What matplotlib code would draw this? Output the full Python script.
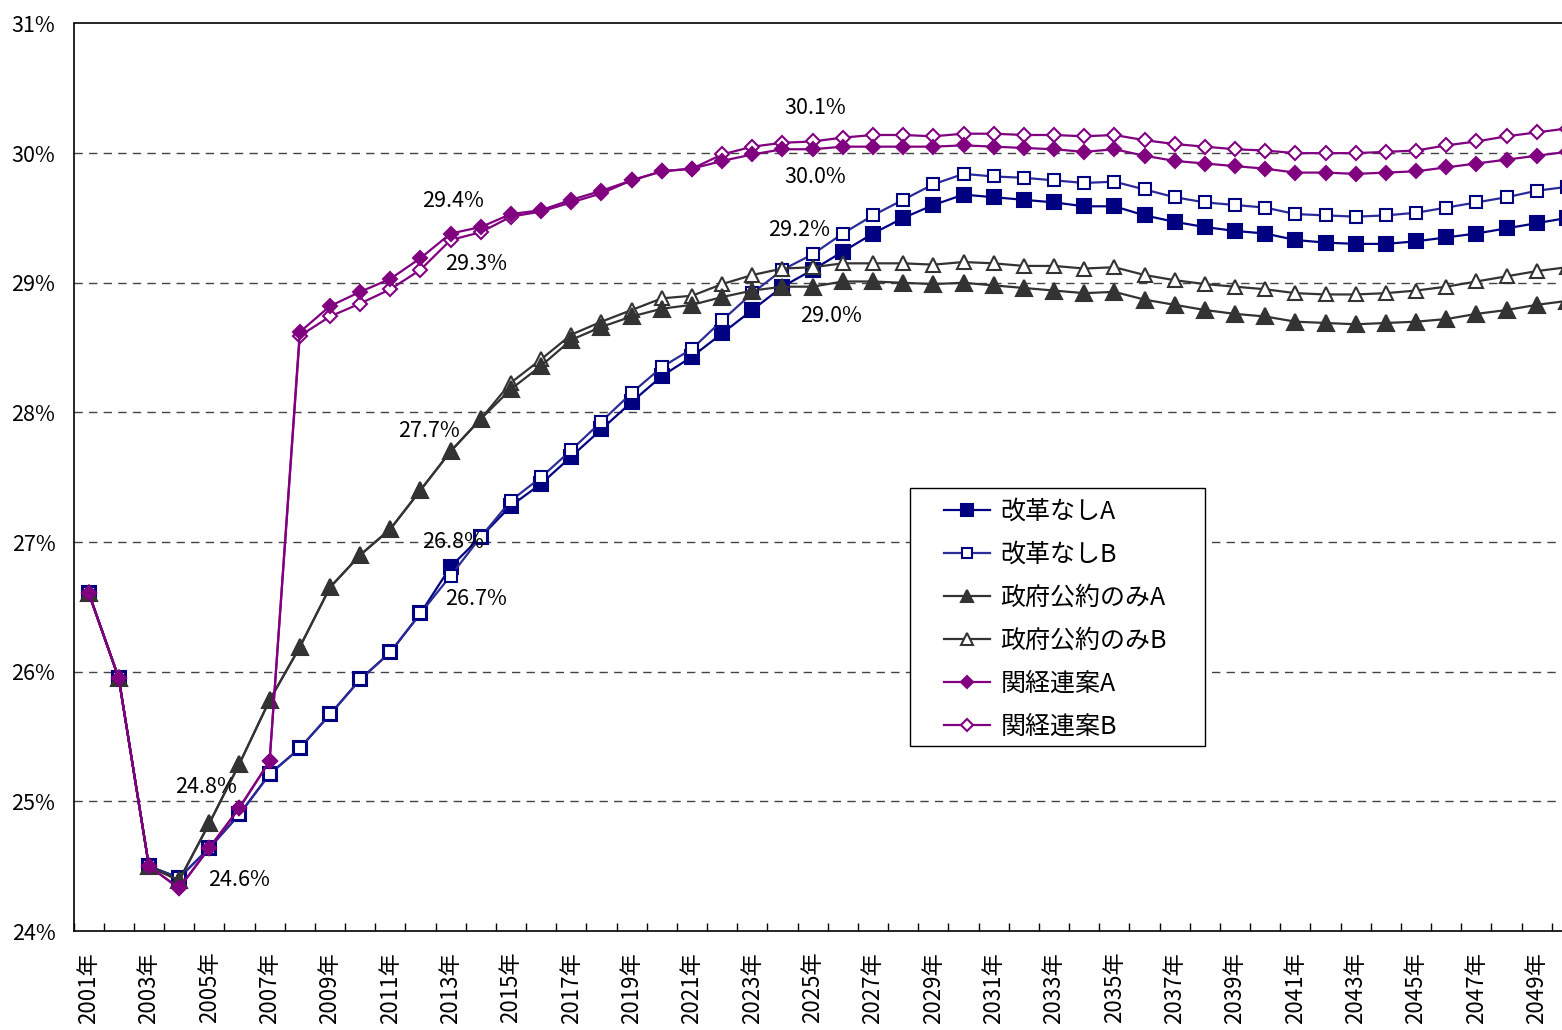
import numpy as np
import matplotlib
matplotlib.use("Agg")
import matplotlib.pyplot as plt
from matplotlib.patches import Rectangle
from matplotlib.ticker import FixedLocator, FuncFormatter

plt.rcParams['font.family'] = ['Noto Sans CJK JP', 'DejaVu Sans']

years = list(range(2001, 2051))

kaikaku_nashi_a = [26.61, 25.95, 24.50, 24.41, 24.64, 24.90, 25.21, 25.41, 25.67, 25.94,
                   26.15, 26.45, 26.81, 27.04, 27.28, 27.45, 27.66, 27.87, 28.08, 28.28,
                   28.43, 28.61, 28.79, 28.97, 29.10, 29.24, 29.38, 29.50, 29.60, 29.68,
                   29.66, 29.64, 29.62, 29.59, 29.59, 29.52, 29.47, 29.43, 29.40, 29.38,
                   29.33, 29.31, 29.30, 29.30, 29.32, 29.35, 29.38, 29.42, 29.46, 29.50]

kaikaku_nashi_b = [26.61, 25.95, 24.50, 24.41, 24.64, 24.90, 25.21, 25.41, 25.67, 25.94,
                   26.15, 26.45, 26.74, 27.04, 27.32, 27.50, 27.71, 27.93, 28.15, 28.35,
                   28.49, 28.71, 28.92, 29.10, 29.22, 29.38, 29.52, 29.64, 29.76, 29.84,
                   29.82, 29.81, 29.79, 29.77, 29.78, 29.72, 29.66, 29.62, 29.60, 29.58,
                   29.53, 29.52, 29.51, 29.52, 29.54, 29.58, 29.62, 29.66, 29.71, 29.74]

seifu_a = [26.61, 25.95, 24.50, 24.39, 24.83, 25.29, 25.78, 26.19, 26.65, 26.90,
           27.10, 27.40, 27.70, 27.95, 28.18, 28.36, 28.56, 28.66, 28.74, 28.80,
           28.83, 28.89, 28.94, 28.97, 28.97, 29.01, 29.01, 29.00, 28.99, 29.00,
           28.98, 28.96, 28.94, 28.92, 28.93, 28.87, 28.83, 28.79, 28.76, 28.74,
           28.70, 28.69, 28.68, 28.69, 28.70, 28.72, 28.76, 28.79, 28.83, 28.86]

seifu_b = [26.61, 25.95, 24.50, 24.39, 24.83, 25.29, 25.78, 26.19, 26.65, 26.90,
           27.10, 27.40, 27.70, 27.95, 28.23, 28.41, 28.60, 28.70, 28.79, 28.88,
           28.90, 28.99, 29.06, 29.11, 29.12, 29.15, 29.15, 29.15, 29.14, 29.16,
           29.15, 29.13, 29.13, 29.11, 29.12, 29.06, 29.02, 28.99, 28.97, 28.95,
           28.92, 28.91, 28.91, 28.92, 28.94, 28.97, 29.01, 29.05, 29.09, 29.12]

kankeiren_a = [26.61, 25.95, 24.50, 24.33, 24.64, 24.95, 25.31, 28.62, 28.82, 28.93,
               29.03, 29.19, 29.38, 29.43, 29.53, 29.56, 29.64, 29.71, 29.79, 29.86,
               29.88, 29.94, 29.99, 30.03, 30.03, 30.05, 30.05, 30.05, 30.05, 30.06,
               30.05, 30.04, 30.03, 30.01, 30.03, 29.98, 29.94, 29.92, 29.90, 29.88,
               29.85, 29.85, 29.84, 29.85, 29.86, 29.89, 29.92, 29.95, 29.98, 30.01]

kankeiren_b = [26.61, 25.95, 24.50, 24.33, 24.64, 24.95, 25.31, 28.59, 28.74, 28.84,
               28.95, 29.10, 29.33, 29.39, 29.51, 29.55, 29.62, 29.69, 29.79, 29.86,
               29.88, 29.99, 30.05, 30.08, 30.09, 30.12, 30.14, 30.14, 30.13, 30.15,
               30.15, 30.14, 30.14, 30.13, 30.14, 30.10, 30.07, 30.05, 30.03, 30.02,
               30.00, 30.00, 30.00, 30.01, 30.02, 30.06, 30.09, 30.13, 30.16, 30.19]

series_names = ['改革なしA', '改革なしB', '政府公約のみA', '政府公約のみB', '関経連案A', '関経連案B']
y_ticks = [24, 25, 26, 27, 28, 29, 30, 31]

NAVY = '#000080'
NAVY_LIGHT = '#2b2b9a'
GRAY = '#333333'
PURPLE = '#800080'

W, H = 1562, 1030
fig = plt.figure(figsize=(W / 100, H / 100), dpi=100)
left_px, right_px, top_px, bottom_px = 73.5, 1562, 23.5, 931
ax = fig.add_axes([left_px / W, 1 - bottom_px / H,
                   (right_px - left_px) / W, (bottom_px - top_px) / H])

styles = [
    dict(color=NAVY, marker='s', mfc=NAVY, mec=NAVY, ms=9.5, zorder=3.0),
    dict(color=NAVY_LIGHT, marker='s', mfc='white', mec=NAVY, ms=9, zorder=3.1),
    dict(color=GRAY, marker='^', mfc=GRAY, mec=GRAY, ms=11, zorder=3.3),
    dict(color=GRAY, marker='^', mfc='white', mec=GRAY, ms=10.5, zorder=3.2),
    dict(color=PURPLE, marker='D', mfc=PURPLE, mec=PURPLE, ms=7.5, zorder=3.5),
    dict(color=PURPLE, marker='D', mfc='white', mec=PURPLE, ms=7, zorder=3.4),
]
data = [kaikaku_nashi_a, kaikaku_nashi_b, seifu_a, seifu_b, kankeiren_a, kankeiren_b]

handles = []
for vals, name, st in zip(data, series_names, styles):
    h, = ax.plot(years, vals, lw=1.6, mew=1.5, label=name, clip_on=True, **st)
    handles.append(h)

# value callouts: (series index, year, offset in pixels)
callouts = [
    (2, 2005, (-3, 36)),
    (0, 2005, (30, -32)),
    (4, 2013, (2, 33)),
    (5, 2013, (25, -24)),
    (2, 2013, (-22, 20)),
    (0, 2013, (2, 25)),
    (1, 2013, (25, -23)),
    (5, 2025, (3, 33)),
    (4, 2025, (3, -28)),
    (1, 2025, (-14, 24)),
    (2, 2025, (18, -29)),
]
for idx, yr, off in callouts:
    v = data[idx][years.index(yr)]
    ax.annotate(f"{v:.1f}%", xy=(yr, v), xytext=off, textcoords='offset pixels',
                ha='center', va='center', fontsize=15.5, color='black', zorder=5)

ax.set_xlim(2000.5, 2000.5 + (right_px - left_px) / 30.17)
ax.set_ylim(24, 31)

ax.yaxis.set_major_locator(FixedLocator(y_ticks))
ax.yaxis.set_major_formatter(FuncFormatter(lambda v, p: f"{int(round(v))}%"))
ax.tick_params(axis='y', length=0, pad=13, labelsize=15.5)
for g in y_ticks[1:-1]:
    ax.axhline(g, color='#444444', lw=1.0, ls=(0, (6, 4.5)), zorder=1)

label_years = [y for y in years if y % 2 == 1]
ax.xaxis.set_major_locator(FixedLocator(label_years))
ax.xaxis.set_major_formatter(FuncFormatter(lambda v, p: f"{int(v)}年"))
ax.xaxis.set_minor_locator(FixedLocator([y - 0.5 for y in years] + [years[-1] + 0.5]))
ax.tick_params(axis='x', which='major', length=0, pad=15, labelsize=16, labelrotation=90)
ax.tick_params(axis='x', which='minor', direction='in', length=6, width=1, color='black')
for lbl in ax.get_xticklabels():
    lbl.set_va('top')

for side in ['left', 'bottom', 'top']:
    ax.spines[side].set_linewidth(1.2)
    ax.spines[side].set_color('black')
ax.spines['right'].set_visible(False)

# legend: white boxed panel with the entries placed inside
box_l, box_t, box_r, box_b = 910, 488, 1205, 746
panel = Rectangle((box_l / W, 1 - box_b / H), (box_r - box_l) / W, (box_b - box_t) / H,
                  transform=fig.transFigure, facecolor='white', edgecolor='black',
                  lw=1.0, zorder=6)
ax.add_patch(panel)
panel.set_clip_on(False)

leg = ax.legend(handles=handles, loc='upper left',
                bbox_to_anchor=(944 / W, 1 - 499 / H),
                bbox_transform=fig.transFigure, borderaxespad=0, borderpad=0,
                fontsize=18, frameon=False, handlelength=1.85, handletextpad=0.4,
                labelspacing=0.68, markerscale=0.85)
leg.set_zorder(7)

fig.savefig('out.png', dpi=100, facecolor='white')
